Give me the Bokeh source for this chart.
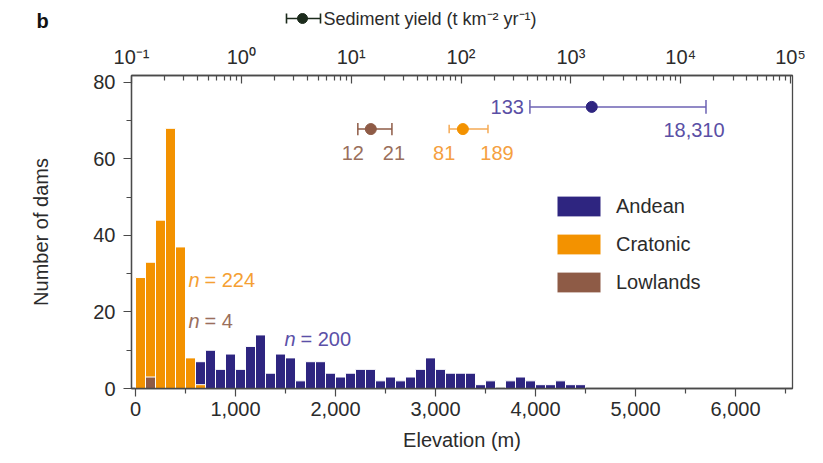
from bokeh.plotting import figure
from bokeh.layouts import column
from bokeh.models import (Range1d, LogScale, LinearAxis, LogAxis, FixedTicker, Legend, LegendItem,
                          NumeralTickFormatter, ColumnDataSource)
from bokeh.core.properties import value
from bokeh.embed import file_html
from bokeh.resources import INLINE

FONT = "Liberation Sans"
FS = "20px"

# ---------------- data ----------------
bin_width = 100
cratonic_left = [0, 100, 200, 300, 400, 500, 600]
cratonic_count = [29, 33, 44, 68, 37, 8, 1]
lowlands_left = [100]
lowlands_count = [3]
andean_left = [600, 700, 800, 900, 1000, 1100, 1200, 1300, 1400, 1500,
               1600, 1700, 1800, 1900, 2000, 2100, 2200, 2300, 2400, 2500,
               2600, 2700, 2800, 2900, 3000, 3100, 3200, 3300, 3400, 3500,
               3600, 3700, 3800, 3900, 4000, 4100, 4200, 4300, 4400]
andean_count = [7, 10, 5, 9, 5, 11, 14, 4, 9, 8,
                2, 7, 7, 4, 3, 4, 5, 5, 2, 3,
                2, 3, 5, 8, 5, 4, 4, 4, 1, 2,
                0, 2, 3, 2, 1, 1, 2, 1, 1]
n_labels = ["224", "4", "200"]  # cratonic, lowlands, andean

# sediment yield (t km-2 yr-1)
sy_groups = ["Andean", "Cratonic", "Lowlands"]
sy_mid = [1550, 104, 15.1]
sy_low = [424, 78, 11.5]
sy_high = [17000, 176, 23.5]
sy_low_text = ["133", "81", "12"]
sy_high_text = ["18,310", "189", "21"]

x_ticks = [0, 1000, 2000, 3000, 4000, 5000, 6000]
x_minor = [500, 1500, 2500, 3500, 4500, 5500, 6500]
y_ticks = [0, 20, 40, 60, 80]
y_minor = [10, 30, 50, 70]
sy_ticks = [0.1, 1, 10, 100, 1000, 10000, 100000]
sy_tick_labels = ["10\u207b\u00b9", "10\u2070", "10\u00b9", "10\u00b2", "10\u00b3", "10\u2074", "10\u2075"]
sy_minor = [m * d for d in [0.1, 1, 10, 100, 1000, 10000] for m in range(2, 10)]

ANDEAN = "#2e2580"
CRATONIC = "#f39200"
LOWLANDS = "#8e5b46"
AXIS = "#4a4a4a"
TXT = "#2b2b2b"
DARK = "#1c2b1c"

# ---------------- header ----------------
h = figure(width=823, height=40, output_backend="svg", toolbar_location=None,
           x_range=Range1d(0, 823), y_range=Range1d(40, 0),
           x_axis_type=None, y_axis_type=None, min_border=0)
h.outline_line_color = None
h.frame_align = False
h.text(x=[36], y=[20], text=["b"], text_font=value(FONT), text_font_size="20px",
       text_font_style="bold", text_color="#111111", text_baseline="middle", text_align="left")
h.segment(x0=[286], x1=[320], y0=[18], y1=[18], line_color=DARK, line_width=1.6)
h.segment(x0=[286, 320], x1=[286, 320], y0=[13, 13], y1=[23, 23], line_color=DARK, line_width=1.6)
h.scatter(x=[302], y=[18], size=10, marker="circle", fill_color=DARK, line_color=DARK)
h.text(x=[323], y=[18], text=["Sediment yield (t km\u207b\u00b2 yr\u207b\u00b9)"], text_font=value(FONT),
       text_font_size="18px", text_color=TXT, text_baseline="middle", text_align="left")

# ---------------- main ----------------
p = figure(width=823, height=423, output_backend="svg", toolbar_location=None,
           x_range=Range1d(-40, 6570), y_range=Range1d(0, 81.8),
           x_axis_type=None, y_axis_type=None,
           min_border_left=131, min_border_right=31, min_border_top=35, min_border_bottom=75)
p.outline_line_color = AXIS
p.outline_line_width = 1.3
p.frame_align = False

p.extra_x_ranges = {"sy": Range1d(0.1, 10 ** 5.018)}
p.extra_x_scales = {"sy": LogScale()}


def style_axis(ax, inward=False):
    ax.axis_line_color = AXIS
    ax.axis_line_width = 1.3
    ax.major_tick_line_color = AXIS
    ax.minor_tick_line_color = AXIS
    ax.major_tick_line_width = 1.2
    ax.minor_tick_line_width = 1.2
    if inward:
        ax.major_tick_in, ax.major_tick_out = 8, 0
        ax.minor_tick_in, ax.minor_tick_out = 5, 0
    else:
        ax.major_tick_in, ax.major_tick_out = 0, 8
        ax.minor_tick_in, ax.minor_tick_out = 0, 5
    ax.major_label_text_font = FONT
    ax.major_label_text_font_size = FS
    ax.major_label_text_color = TXT
    ax.axis_label_text_font = FONT
    ax.axis_label_text_font_size = FS
    ax.axis_label_text_font_style = "normal"
    ax.axis_label_text_color = TXT


xb = LinearAxis(ticker=FixedTicker(ticks=x_ticks, minor_ticks=x_minor),
                formatter=NumeralTickFormatter(format="0,0"), axis_label="Elevation (m)")
style_axis(xb)
xb.major_label_standoff = 5
xb.axis_label_standoff = 10
p.add_layout(xb, "below")

yl = LinearAxis(ticker=FixedTicker(ticks=y_ticks, minor_ticks=y_minor), axis_label="Number of dams")
style_axis(yl)
yl.major_label_standoff = 8
yl.axis_label_standoff = 38
p.add_layout(yl, "left")

xt = LogAxis(x_range_name="sy", ticker=FixedTicker(ticks=sy_ticks, minor_ticks=sy_minor),
             major_label_overrides={t: l for t, l in zip(sy_ticks, sy_tick_labels)})
style_axis(xt, inward=True)
xt.major_label_standoff = 8
p.add_layout(xt, "above")

# ---------------- bars ----------------
def bars(left, count, color):
    src = ColumnDataSource(dict(left=left, right=[l + bin_width for l in left], top=count))
    return p.quad(left="left", right="right", bottom=0, top="top", source=src,
                  fill_color=color, line_color="white", line_width=1)

r_and = bars(andean_left, andean_count, ANDEAN)
r_cra = bars(cratonic_left, cratonic_count, CRATONIC)
r_low = bars(lowlands_left, lowlands_count, LOWLANDS)

# n labels
n_specs = [(530, 28.4, "#f5a033", n_labels[0]), (530, 17.7, "#9b6f5c", n_labels[1]),
           (1490, 13.0, "#5b50a8", n_labels[2])]
for x, y, c, t in n_specs:
    p.text(x=[x], y=[y], text=["n"], text_font=value(FONT), text_font_size=FS,
           text_font_style="italic", text_color=c, text_baseline="middle", text_align="left")
    p.text(x=[x], y=[y], text=["= " + t], x_offset=16, text_font=value(FONT), text_font_size=FS,
           text_color=c, text_baseline="middle", text_align="left")

# ---------------- sediment yield error bars ----------------
sy_y = [73.6, 67.8, 67.8]
sy_cap = [1.8, 1.1, 1.6]
sy_line = ["#6c62b3", "#f5aa55", "#8e5b46"]
sy_pt = [ANDEAN, CRATONIC, LOWLANDS]
sy_txt = ["#5a4fa5", "#f5a040", "#9a6f5c"]
for i in range(3):
    y = sy_y[i]
    p.segment(x0=[sy_low[i]], x1=[sy_high[i]], y0=[y], y1=[y], x_range_name="sy",
              line_color=sy_line[i], line_width=1.5)
    p.segment(x0=[sy_low[i], sy_high[i]], x1=[sy_low[i], sy_high[i]],
              y0=[y - sy_cap[i]] * 2, y1=[y + sy_cap[i]] * 2, x_range_name="sy",
              line_color=sy_line[i], line_width=1.5)
    p.scatter(x=[sy_mid[i]], y=[y], x_range_name="sy", size=11, marker="circle",
              fill_color=sy_pt[i], line_color=sy_pt[i])

p.text(x=[sy_low[0]], y=[sy_y[0]], text=[sy_low_text[0]], x_range_name="sy", x_offset=-6,
       text_font=value(FONT), text_font_size=FS, text_color=sy_txt[0],
       text_align="right", text_baseline="middle")
p.text(x=[sy_high[0]], y=[sy_y[0]], text=[sy_high_text[0]], x_range_name="sy", x_offset=-12, y_offset=23,
       text_font=value(FONT), text_font_size=FS, text_color=sy_txt[0],
       text_align="center", text_baseline="middle")
for i, (dl, dh) in zip([1, 2], [(-5, 9), (-5, 2)]):
    p.text(x=[sy_low[i]], y=[sy_y[i]], text=[sy_low_text[i]], x_range_name="sy", x_offset=dl, y_offset=24,
           text_font=value(FONT), text_font_size=FS, text_color=sy_txt[i],
           text_align="center", text_baseline="middle")
    p.text(x=[sy_high[i]], y=[sy_y[i]], text=[sy_high_text[i]], x_range_name="sy", x_offset=dh, y_offset=24,
           text_font=value(FONT), text_font_size=FS, text_color=sy_txt[i],
           text_align="center", text_baseline="middle")

# ---------------- legend ----------------
legend = Legend(items=[LegendItem(label="Andean", renderers=[r_and]),
                       LegendItem(label="Cratonic", renderers=[r_cra]),
                       LegendItem(label="Lowlands", renderers=[r_low])],
                location=(420, 93), orientation="vertical")
legend.glyph_width = 55
legend.glyph_height = 26
legend.spacing = 12
legend.padding = 0
legend.margin = 0
legend.label_standoff = 10
legend.label_height = 26
legend.border_line_alpha = 0
legend.background_fill_alpha = 0
legend.label_text_font = FONT
legend.label_text_font_size = FS
legend.label_text_color = TXT
p.add_layout(legend, "center")

layout = column(h, p, spacing=0)
open("out.html", "w").write(file_html(layout, INLINE))
